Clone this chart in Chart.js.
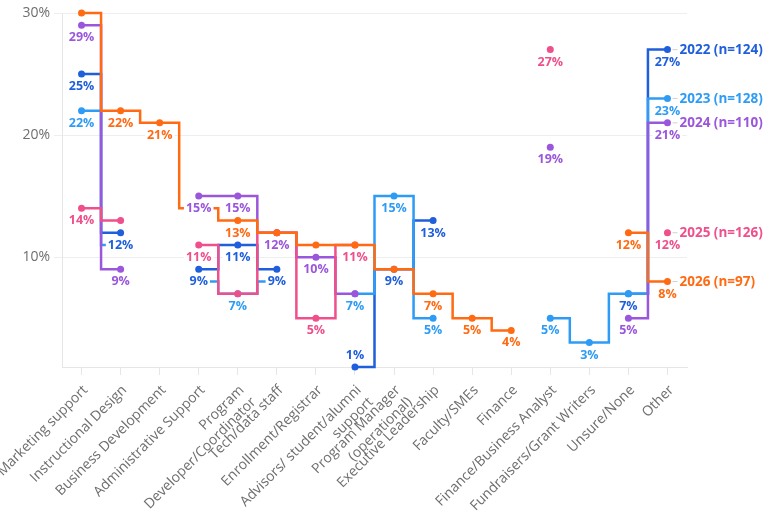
<!DOCTYPE html>
<html>
<head>
<meta charset="utf-8">
<script src="https://cdn.jsdelivr.net/npm/chart.js@4"></script>
<style>
  html, body { margin: 0; padding: 0; background: #fff; }
  #wrap { width: 780px; height: 515px; position: relative; }
</style>
</head>
<body>
<div id="wrap"><canvas id="myChart"></canvas></div>
<script>
const categories = [
  'Marketing support', 'Instructional Design', 'Business Development', 'Administrative Support',
  ['Program', 'Developer/Coordinator'], 'Tech/data staff', 'Enrollment/Registrar',
  ['Advisors/ student/alumni', 'support'], ['Program Manager', '(operational)'], 'Executive Leadership',
  'Faculty/SMEs', 'Finance', 'Finance/Business Analyst', 'Fundraisers/Grant Writers', 'Unsure/None', 'Other'
];
const seriesNames = ['2022 (n=124)', '2023 (n=128)', '2024 (n=110)', '2025 (n=126)', '2026 (n=97)'];
const values2022 = [25, 12, null, 9, 11, 9, null, 1, 9, 13, null, null, null, null, 7, 27];
const values2023 = [22, 11, null, 8, 7, 8, null, 7, 15, 5, null, null, 5, 3, 7, 23];
const values2024 = [29, 9, null, 15, 15, 12, 10, 7, null, null, null, null, 19, null, 5, 21];
const values2025 = [14, 13, null, 11, 7, 12, 5, 11, null, null, null, null, 27, null, null, 12];
const values2026 = [30, 22, 21, 14, 13, 12, 11, 11, 9, 7, 5, 4, null, null, 12, 8];
const yTicks = [10, 20, 30];

const allValues = [values2022, values2023, values2024, values2025, values2026];
const colors = ['#1f5fdc', '#2e9cf5', '#9b57dc', '#ef4f8b', '#ff6a13'];
const FONT = '"Open Sans", sans-serif';

// labels under each point, earlier years win when two labels collide
const pointLabels = {
  id: 'pointLabels',
  afterDatasetsDraw(chart) {
    const ctx = chart.ctx;
    const area = chart.chartArea;
    const placed = [];
    ctx.save();
    ctx.font = 'bold 12.5px ' + FONT;
    chart.data.datasets.forEach((ds, di) => {
      const meta = chart.getDatasetMeta(di);
      meta.data.forEach((pt, i) => {
        const v = ds.data[i];
        if (v === null) return;
        const text = v + '%';
        const w = ctx.measureText(text).width + 4;
        const h = 14;
        let top = pt.y + 5;
        if (top + h > area.bottom) top = pt.y - 5 - h;
        const box = { x: pt.x - w / 2, y: top, w: w, h: h };
        const hit = placed.some(b => box.x < b.x + b.w && b.x < box.x + box.w && box.y < b.y + b.h && b.y < box.y + box.h);
        if (!hit) placed.push(Object.assign(box, { color: ds.borderColor, text: text }));
      });
    });
    ctx.textAlign = 'center';
    ctx.textBaseline = 'middle';
    placed.forEach(b => {
      ctx.fillStyle = '#fff';
      ctx.fillRect(b.x, b.y, b.w, b.h);
      ctx.fillStyle = b.color;
      ctx.fillText(b.text, b.x + b.w / 2, b.y + b.h / 2 + 0.5);
    });

    // series name next to the last point
    ctx.font = 'bold 13.5px ' + FONT;
    ctx.textAlign = 'left';
    chart.data.datasets.forEach((ds, di) => {
      const meta = chart.getDatasetMeta(di);
      const last = meta.data[meta.data.length - 1];
      if (ds.data[ds.data.length - 1] === null) return;
      ctx.strokeStyle = '#d0d0d0';
      ctx.lineWidth = 1;
      ctx.beginPath();
      ctx.moveTo(last.x + 5, last.y);
      ctx.lineTo(last.x + 10, last.y);
      ctx.stroke();
      ctx.fillStyle = ds.borderColor;
      ctx.fillText(seriesNames[di], last.x + 12, last.y + 0.5);
    });
    ctx.restore();
  }
};

const ctx = document.getElementById('myChart');

new Chart(ctx, {
  type: 'line',
  data: {
    labels: categories,
    datasets: allValues.map((vals, i) => ({
      label: seriesNames[i],
      data: vals,
      borderColor: colors[i],
      backgroundColor: colors[i],
      pointBackgroundColor: colors[i],
      pointBorderWidth: 0,
      pointRadius: 3.5,
      borderWidth: 2.5,
      borderJoinStyle: 'miter',
      stepped: 'middle',
      spanGaps: false,
      clip: false,
      order: 4 - i
    }))
  },
  options: {
    responsive: true,
    maintainAspectRatio: false,
    animation: false,
    events: [],
    layout: { padding: { top: 13, right: 93, left: 0, bottom: 0 } },
    plugins: {
      legend: { display: false },
      tooltip: { enabled: false }
    },
    scales: {
      x: {
        offset: true,
        grid: { drawOnChartArea: false, drawTicks: true, tickLength: 8, color: '#e6e6e6', offset: false },
        border: { display: true, color: '#e6e6e6' },
        ticks: {
          autoSkip: false,
          minRotation: 45,
          maxRotation: 45,
          padding: 7,
          labelOffset: 4,
          color: '#6e6e6e',
          font: { family: FONT, size: 14 }
        },
        afterFit(scale) {
          scale.height = 148;
          scale.paddingLeft = 0;
          scale.paddingRight = 0;
        }
      },
      y: {
        min: 1,
        max: 30,
        grid: { color: '#eeeeee', tickLength: 8 },
        border: { display: true, color: '#e6e6e6' },
        ticks: {
          padding: 4,
          color: '#6e6e6e',
          font: { family: FONT, size: 14 },
          callback: v => v + '%'
        },
        afterBuildTicks(scale) {
          scale.ticks = yTicks.map(v => ({ value: v }));
        },
        afterFit(scale) {
          scale.width = 62;
        }
      }
    }
  },
  plugins: [pointLabels]
});
</script>
</body>
</html>
